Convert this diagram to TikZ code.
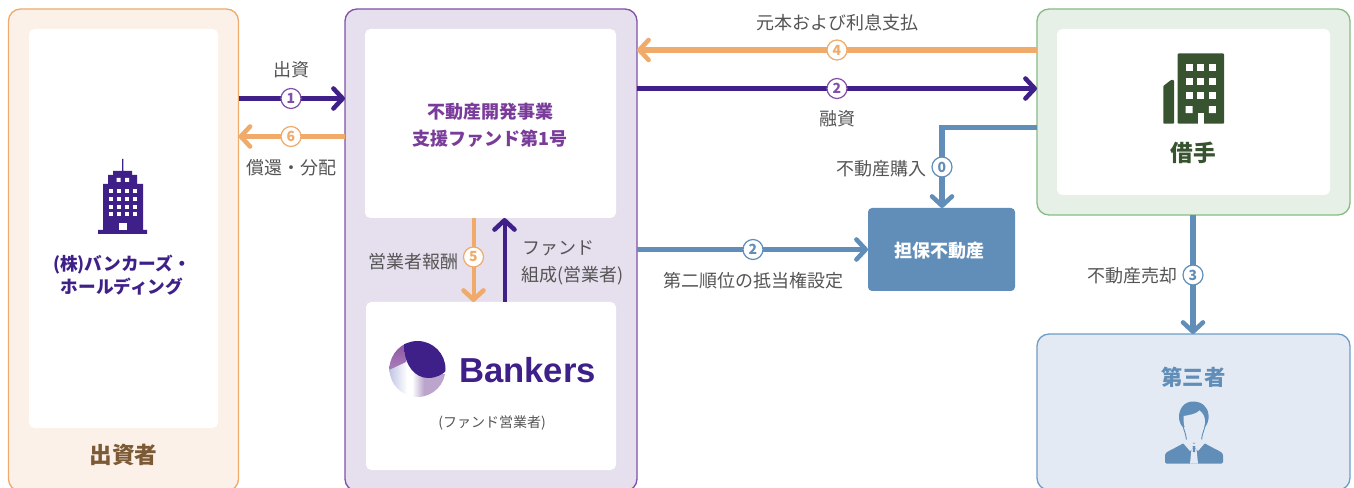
\documentclass[tikz,border=0pt]{standalone}
\usepackage{fontspec}
\setmainfont{Noto Sans CJK JP}
\newfontfamily\logofont{Liberation Sans}
\usetikzlibrary{arrows.meta,calc}
\definecolor{cOrange}{HTML}{F0AA69}
\definecolor{cOrangeFill}{HTML}{FBF1E8}
\definecolor{cPurple}{HTML}{3F2088}
\definecolor{cPurpleLine}{HTML}{8250A8}
\definecolor{cPurpleFill}{HTML}{E6DFEE}
\definecolor{cFundText}{HTML}{7A3C9A}
\definecolor{cGreenLine}{HTML}{86BC85}
\definecolor{cGreenFill}{HTML}{E6F0E7}
\definecolor{cGreenDark}{HTML}{38532F}
\definecolor{cBlue}{HTML}{618EB9}
\definecolor{cBlueLine}{HTML}{6F9DC8}
\definecolor{cBlueFill}{HTML}{E3EAF3}
\definecolor{cBrown}{HTML}{7D5A36}
\definecolor{cText}{HTML}{555555}
\definecolor{cLogoMid}{HTML}{5E1A8C}
\definecolor{cLogoLeft}{HTML}{8A4FA0}
\definecolor{cLogoPale}{HTML}{C0C4E2}
\definecolor{cLogoLow}{HTML}{BBA5CC}
\tikzset{
  panel/.style={rectangle,rounded corners=9pt,line width=1pt,inner sep=0pt,outer sep=0pt},
  card/.style={rectangle,rounded corners=4pt,fill=white,inner sep=0pt,outer sep=0pt},
  flow/.style={line width=4pt,-{Straight Barb[length=7pt,width=15pt,line width=3.4pt,round]}},
  flowO/.style={flow,draw=cOrange},
  flowP/.style={flow,draw=cPurple},
  flowB/.style={flow,draw=cBlue},
  num/.style={circle,fill=white,line width=0.9pt,minimum size=15pt,inner sep=0pt,outer sep=0pt,font=\fontsize{10.5pt}{10.5pt}\selectfont\bfseries},
  numO/.style={num,draw=cOrange,text=cOrange},
  numP/.style={num,draw=cPurpleLine,text=cPurpleLine},
  numB/.style={num,draw=cBlue,text=cBlue},
  lab/.style={inner sep=0pt,outer sep=0pt,text=cText,yshift=-0.75pt,font=\fontsize{13.5pt}{13.5pt}\selectfont},
  head/.style={inner sep=0pt,outer sep=0pt,align=center,font=\bfseries},
}
\begin{document}
\begin{tikzpicture}[x=0.75pt,y=-0.75pt]
\useasboundingbox (0,0) rectangle (1354,488);
\fill[white] (0,0) rectangle (1354,488);
% panels
\node[panel,draw=cOrange,fill=cOrangeFill,minimum width=172.5pt,minimum height=361.5pt] (investor) at (123.5,250) {};
\node[card,minimum width=141.75pt,minimum height=299.25pt] (investorcard) at (123.5,228.5) {};
\node[panel,draw=cPurpleLine,fill=cPurpleFill,minimum width=219pt,minimum height=361.5pt] (fund) at (491,250) {};
\node[card,minimum width=188.25pt,minimum height=141.75pt] (fundcard) at (490.5,123.5) {};
\node[card,minimum width=187.5pt,minimum height=126pt] (bankers) at (491,386) {};
\node[panel,draw=cGreenLine,fill=cGreenFill,minimum width=234.75pt,minimum height=154.5pt] (borrower) at (1193.5,112) {};
\node[card,minimum width=204.75pt,minimum height=124.5pt] (borrowercard) at (1193.5,112) {};
\node[panel,draw=cBlueLine,fill=cBlueFill,minimum width=234.75pt,minimum height=117pt] (third) at (1193.5,412) {};
\node[rectangle,rounded corners=3pt,fill=cBlue,inner sep=0pt,outer sep=0pt,minimum width=110.25pt,minimum height=62.25pt] (property) at (941.5,249.5) {};
% connectors
\draw[flowP] (investor.east |- 0,98.5) -- (fund.west |- 0,98.5);
\draw[flowO] (fund.west |- 0,136.5) -- (investor.east |- 0,136.5);
\draw[flowO] (borrower.west |- 0,50) -- (fund.east |- 0,50);
\draw[flowP] (fund.east |- 0,88.5) -- (borrower.west |- 0,88.5);
\draw[flowB] (borrower.west |- 0,127.5) -| (property.north -| 942,0);
\draw[flowB] (fund.east |- 0,249.5) -- (property.west |- 0,249.5);
\draw[flowB] (borrower.south -| 1193,0) -- (third.north -| 1193,0);
\draw[flowO,line width=3pt] (fundcard.south -| 473.5,0) -- (bankers.north -| 473.5,0);
\draw[flowP,line width=3pt] (bankers.north -| 504.5,0) -- (fundcard.south -| 504.5,0);
% number marks
\node[numP] (m1) at (291,98.5) {1};
\node[numO] (m6) at (291,136.5) {6};
\node[numO] (m4) at (837,50) {4};
\node[numP] (m2a) at (837,88.5) {2};
\node[numB] (m0) at (942,167) {0};
\node[numB] (m2b) at (753,249.5) {2};
\node[numB] (m3) at (1193,275) {3};
\node[numO] (m5) at (473.5,257) {5};
% labels
\node[lab] (l1) at (291,69) {出資};
\node[lab] (l6) at (291,167) {償還・分配};
\node[lab] (l4) at (837,22) {元本および利息支払};
\node[lab] (l2a) at (837,118) {融資};
\node[lab,anchor=east] (l0) at (926,168) {不動産購入};
\node[lab] (l2b) at (753,280) {第二順位の抵当権設定};
\node[lab,anchor=east] (l3) at (1177,275) {不動産売却};
\node[lab,anchor=east] (l5) at (458,261) {営業者報酬};
\node[lab,anchor=west] (l7a) at (522,247) {ファンド};
\node[lab,anchor=west] (l7b) at (521,275) {組成(営業者)};
% titles
\node[head,text=cFundText,font=\fontsize{13.5pt}{20.25pt}\selectfont\bfseries] (t1) at (490,125.5) {不動産開発事業\\支援ファンド第1号};
\node[head,text=cPurple,font=\fontsize{13.25pt}{17.25pt}\selectfont\bfseries] (t2) at (122,275) {(株)バンカーズ・\\ホールディング};
\node[head,text=cBrown,font=\fontsize{17pt}{17pt}\selectfont\bfseries] (t3) at (123.5,455) {出資者};
\node[head,text=cGreenDark,font=\fontsize{17pt}{17pt}\selectfont\bfseries] (t4) at (1193.5,153) {借手};
\node[head,text=cBlue,font=\fontsize{16pt}{16pt}\selectfont\bfseries] (t5) at (1193.5,377) {第三者};
\node[head,text=white,font=\fontsize{13.5pt}{13.5pt}\selectfont\bfseries] (t6) at (939,251) {担保不動産};
\node[inner sep=0pt,text=cPurple,font=\logofont\fontsize{26pt}{26pt}\selectfont\bfseries] (t7) at (527.5,370) {Bankers};
\node[lab,font=\fontsize{10.5pt}{10.5pt}\selectfont] (t8) at (492,422) {(ファンド営業者)};
% purple tower icon
\fill[cPurple] (122.2,159) rectangle (123.4,172)
  (113,171) rectangle (132,176)
  (108,175) rectangle (137,185)
  (103,184) rectangle (143,231)
  (98,230) rectangle (147,234);
\fill[white] (116.5,178) rectangle +(4,4) (125,178) rectangle +(4,4);
\foreach \yy in {189.5,197,204.7,212}{
  \foreach \xx in {108.7,116.7,124.7,132.7}{
    \fill[white] (\xx,\yy) rectangle +(4,4);
  }
}
\fill[white] (119,222.7) rectangle (127,230);
% green building icon
\fill[cGreenDark,rounded corners=0.6pt] (1177.7,53.5) rectangle (1224,123.7);
\fill[cGreenDark,rounded corners=0.6pt] (1163.3,86) -- (1171,80) -- (1174,80) -- (1174,123.7) -- (1163.3,123.7) -- cycle;
\foreach \yy in {64.2,78.2,92.2}{
  \foreach \xx in {1185.5,1197.2,1208.8}{
    \fill[white] (\xx,\yy) rectangle +(7,7);
  }
}
\fill[white] (1185.5,106.2) rectangle +(7,7) (1208.8,106.2) rectangle +(7,7);
\fill[white] (1197.7,113.5) rectangle (1204,123.7);
% person icon
\draw[cBlue,line width=0.7pt] (1182.5,424) .. controls (1184,431) and (1186,434) .. (1186.5,440)
  (1205.5,424) .. controls (1204,431) and (1202,434) .. (1201.5,440);
\fill[cBlue] (1193,401.5) .. controls (1184,401.5) and (1179,409) .. (1179,417) .. controls (1179,421) and (1180.5,425) .. (1183,427) -- (1205,427) .. controls (1207.5,424) and (1209,420) .. (1208.5,415) .. controls (1208,407) and (1202,401.5) .. (1193,401.5) -- cycle;
\fill[cBlueFill] (1183.5,416) .. controls (1190,415) and (1196,414) .. (1199.5,410.5) .. controls (1203,413) and (1205,417) .. (1205,421) .. controls (1205,430) and (1199.5,437.5) .. (1194,437.5) .. controls (1188.5,437.5) and (1183,430) .. (1183.5,416) -- cycle;
\fill[cBlue,rounded corners=1pt] (1165,463.5) -- (1165,457) .. controls (1165,453) and (1168,451) .. (1172,449.5) -- (1184,443) -- (1204,443) -- (1216,449.5) .. controls (1220,451) and (1223,453) .. (1223,457) -- (1223,463.5) -- cycle;
\fill[cBlueFill] (1183,443) -- (1187,439) -- (1194,444) -- (1201,439) -- (1205,443) -- (1198,451) -- (1194,447) -- (1190,451) -- cycle;
\fill[cBlueFill] (1191.5,449) -- (1196.5,449) -- (1198,463.5) -- (1190,463.5) -- cycle;
\fill[cBlue] (1192.7,446) -- (1195.3,446) -- (1195,452) -- (1193,452) -- cycle;
% Bankers logo
\begin{scope}
  \clip (417.5,369) circle (28);
  \shade[left color=cLogoPale,right color=white] (389,362) rectangle (407,398);
  \shade[top color=cLogoLeft,bottom color=cLogoLeft!72] (389,340) -- (406,340) -- (406,362) -- (389,370) -- cycle;
  \shade[left color=white,right color=cLogoLow] (412,374) rectangle (424,398);
  \fill[cLogoLow] (423.8,374) rectangle (447,398);
  \shade[left color=cPurple,middle color=cLogoMid,right color=cPurple] (404.5,340) -- (404.5,350) .. controls (405,365) and (415,378) .. (428,378) .. controls (436,378) and (442,375) .. (447,370) -- (447,340) -- cycle;
\end{scope}
\end{tikzpicture}
\end{document}
